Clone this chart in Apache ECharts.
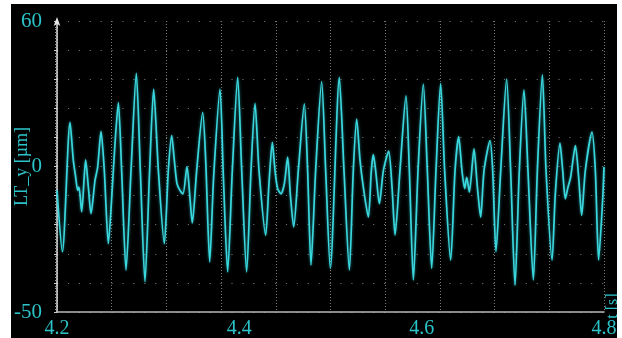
<!DOCTYPE html>
<html>
<head>
<meta charset="utf-8">
<script src="https://cdn.jsdelivr.net/npm/echarts@6/dist/echarts.min.js"></script>
<style>
  body { margin: 0; background: #fff; }
  #chart { position: absolute; left: 11px; top: 4px; width: 606px; height: 334px; background: #000; }
</style>
</head>
<body>
<div id="chart"></div>
<script>
// time axis [s]
var timeS = [
  4.2000, 4.2059, 4.2143, 4.2179, 4.2205, 4.2227, 4.2241, 4.2271, 4.2314, 4.2344,
  4.2373, 4.2417, 4.2446, 4.2483, 4.2519, 4.2563, 4.2607, 4.2636, 4.2673, 4.2709,
  4.2757, 4.2812, 4.2870, 4.2914, 4.2965, 4.3016, 4.3060, 4.3112, 4.3177, 4.3221,
  4.3258, 4.3287, 4.3316, 4.3349, 4.3382, 4.3426, 4.3455, 4.3484, 4.3532, 4.3598,
  4.3631, 4.3675, 4.3718, 4.3788, 4.3825, 4.3872, 4.3923, 4.3982, 4.4026, 4.4080,
  4.4128, 4.4172, 4.4216, 4.4289, 4.4325, 4.4362, 4.4391, 4.4420, 4.4457, 4.4494,
  4.4530, 4.4559, 4.4596, 4.4647, 4.4713, 4.4749, 4.4786, 4.4837, 4.4903, 4.4947,
  4.4998, 4.5097, 4.5148, 4.5207, 4.5250, 4.5287, 4.5324, 4.5360, 4.5415, 4.5448,
  4.5470, 4.5499, 4.5536, 4.5580, 4.5638, 4.5675, 4.5708, 4.5762, 4.5828, 4.5865,
  4.5909, 4.5960, 4.6018, 4.6062, 4.6110, 4.6157, 4.6208, 4.6252, 4.6318, 4.6366,
  4.6406, 4.6442, 4.6472, 4.6494, 4.6523, 4.6574, 4.6611, 4.6647, 4.6684, 4.6750,
  4.6779, 4.6815, 4.6867, 4.6932, 4.6976, 4.7024, 4.7071, 4.7122, 4.7166, 4.7225,
  4.7269, 4.7324, 4.7364, 4.7430, 4.7466, 4.7517, 4.7547, 4.7576, 4.7605, 4.7634,
  4.7686, 4.7722, 4.7755, 4.7795, 4.7868, 4.7905, 4.7941, 4.7985, 4.8000
];

// LT_y displacement [µm]
var ltY = [
  -8.2, -29.3, 15.2, 2.1, -3.7, -8.2, -7.1, -15.6, 2.3, -7.1,
  -16.2, -4.8, -0.2, 12.1, -1.4, -26.5, -7.1, 7.8, 22.0, -1.4,
  -35.6, -1.4, 32.0, -1.4, -39.6, -1.4, 26.6, -1.4, -26.5, -1.4,
  10.6, 2.1, -5.9, -8.2, -9.4, 0.0, -9.4, -19.4, -1.4, 18.6,
  2.1, -32.8, -3.7, 26.6, -3.7, -36.2, -1.4, 30.6, -1.4, -36.2,
  -1.4, 21.7, -1.4, -23.6, -5.9, 8.3, -1.4, -7.6, -9.4, -5.9,
  3.2, -9.4, -20.8, -1.4, 21.5, -1.4, -33.9, -1.4, 29.2, -1.4,
  -35.0, 30.6, -1.4, -35.6, -1.4, 16.3, 2.1, -7.1, -17.4, -1.4,
  4.1, -2.5, -12.8, -1.4, 5.3, -7.1, -23.6, -1.4, 24.3, -1.4,
  -39.0, -1.4, 28.3, -1.4, -35.0, -1.4, 28.5, -1.4, -32.2, -1.4,
  10.3, -1.4, -7.6, -3.7, -8.8, 6.1, -7.1, -17.4, -1.4, 8.9,
  -1.4, -29.3, -1.4, 30.0, -1.4, -40.8, -1.4, 26.3, -1.4, -39.0,
  -1.4, 31.5, -1.4, -32.2, -9.4, 8.0, -1.4, -11.1, -7.1, -3.7,
  7.2, -3.7, -16.8, -1.4, 11.8, -1.4, -32.2, -11.6, -0.2
];

var yTickLabels = ['-50', '0', '60'];
var xTickLabelStep = 0.2;
var xGridStep = 0.06;

var textColor = '#2cc3c9';
var serif = 'Liberation Serif';

var chart = echarts.init(document.getElementById('chart'));

var points = timeS.map(function (t, i) { return [t, ltY[i]]; });

chart.setOption({
    backgroundColor: '#000',
    animation: false,
    grid: { left: 46, right: 13, top: 17, bottom: 26, outerBoundsMode: 'none', containLabel: false },
    xAxis: [{
        type: 'value', min: 4.2, max: 4.8, interval: xGridStep, position: 'bottom',
        axisLine: { onZero: false, lineStyle: { color: '#b8b8b8', width: 1.5 } },
        axisTick: { show: false },
        axisLabel: { show: false },
        splitLine: { show: true, lineStyle: { color: '#7a7a7a', width: 1, type: [1, 2] } },
        name: 't [s]', nameLocation: 'end', nameGap: 1, nameRotate: 90,
        nameTextStyle: { color: textColor, fontFamily: serif, fontSize: 16, align: 'center', verticalAlign: 'top', padding: [0, 0, 0, 12] }
    }, {
        type: 'value', min: 4.2, max: 4.8, interval: xTickLabelStep, position: 'bottom',
        axisLine: { show: false, onZero: false }, axisTick: { show: false }, splitLine: { show: false },
        axisLabel: { color: textColor, fontFamily: serif, fontSize: 20, margin: 7,
            formatter: function (v) { return v.toFixed(1); } }
    }],
    yAxis: [{
        type: 'value', min: -50, max: 50, interval: 10, position: 'left',
        axisLine: { show: true, onZero: false, symbol: ['none', 'arrow'], symbolSize: [5, 9], symbolOffset: [0, 4],
            lineStyle: { color: '#e6e6e6', width: 1.5 } },
        axisTick: { show: true, length: 3, inside: false, lineStyle: { color: '#cfcfcf' } },
        minorTick: { show: true, splitNumber: 10, length: 2, lineStyle: { color: '#9a9a9a' } },
        axisLabel: { show: false },
        splitLine: { show: true, lineStyle: { color: '#6e6e6e', width: 1.2, type: [1.2, 9.7] } },
        name: 'LT_y [µm]', nameLocation: 'middle', nameGap: 26, nameRotate: 90,
        nameTextStyle: { color: textColor, fontFamily: serif, fontSize: 18 }
    }, {
        type: 'category', data: yTickLabels, boundaryGap: false, position: 'left',
        axisLine: { show: false, onZero: false }, axisTick: { show: false }, splitLine: { show: false },
        axisLabel: { color: textColor, fontFamily: serif, fontSize: 21, margin: 15 }
    }],
    series: [{
        type: 'line',
        data: points,
        xAxisIndex: 0,
        yAxisIndex: 0,
        showSymbol: false,
        smooth: 0.25,
        lineStyle: { color: '#3ad8de', width: 1.7, shadowColor: 'rgba(60,220,230,0.6)', shadowBlur: 3 }
    }]
});
</script>
</body>
</html>
